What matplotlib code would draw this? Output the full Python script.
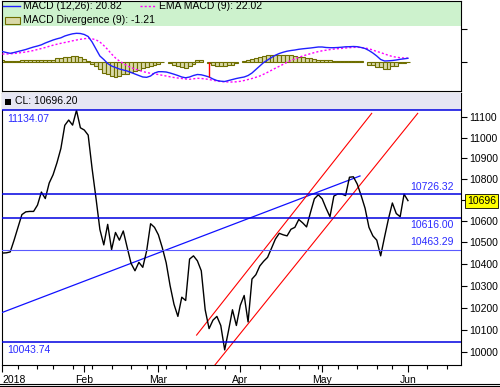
import numpy as np
import matplotlib
matplotlib.use('Agg')
import matplotlib.pyplot as plt
from matplotlib.patches import Rectangle
from matplotlib.lines import Line2D
from matplotlib.ticker import NullLocator
import matplotlib.transforms as mtrans

plt.rcParams['font.family'] = ['Liberation Sans', 'DejaVu Sans']

# daily closes, 2 Jan 2018 - 1 Jun 2018 (trading days)
close = [10450, 10451, 10455, 10510, 10570, 10630, 10643, 10645, 10645, 10675,
         10737, 10706, 10780, 10820, 10878, 10947, 11060, 11086, 11061, 11134,
         11048, 11037, 11012, 10850, 10708, 10560, 10488, 10584, 10466, 10546,
         10510, 10553, 10476, 10402, 10368, 10407, 10384, 10461, 10587, 10570,
         10535, 10475, 10405, 10300, 10215, 10160, 10247, 10232, 10422, 10437,
         10414, 10368, 10190, 10105, 10143, 10160, 10119, 10010, 10097, 10190,
         10119, 10210, 10255, 10135, 10330, 10350, 10390, 10412, 10430, 10472,
         10515, 10542, 10535, 10530, 10561, 10570, 10607, 10591, 10572, 10640,
         10705, 10724, 10705, 10660, 10620, 10718, 10728, 10728, 10720, 10808,
         10810, 10775, 10720, 10660, 10570, 10530, 10510, 10437, 10525, 10610,
         10685, 10635, 10620, 10727, 10696.20]

# MACD (12,26)
macd = [62.4, 56.3, 51.4, 56.3, 62.4, 68.5, 74.7, 82.6, 90.0, 96.1,
        103.4, 114.4, 123.6, 132.8, 140.1, 146.3, 157.3, 164.6, 170.7, 173.8,
        172.6, 166.5, 154.2, 120.6, 77.7, 34.9, 13.5, -11.0, -26.3, -35.5,
        -44.7, -50.8, -56.9, -66.1, -75.3, -84.5, -93.6, -95.5, -87.5, -69.2,
        -61.2, -61.2, -63.0, -69.2, -76.5, -84.5, -93.6, -98.5, -93.6, -84.5,
        -78.3, -80.2, -86.3, -93.6, -105.9, -115.1, -119.3, -121.2, -115.1, -108.9,
        -102.8, -97.9, -93.6, -84.5, -69.2, -47.7, -26.3, -4.9, 10.4, 25.7,
        39.8, 50.2, 58.1, 64.3, 68.5, 71.6, 75.9, 78.9, 81.4, 83.8,
        86.9, 90.0, 90.0, 86.9, 85.7, 85.7, 86.9, 88.7, 91.2, 91.8,
        93.0, 91.8, 86.9, 80.8, 68.5, 53.2, 34.9, 13.5, 4.3, 5.5,
        7.3, 10.4, 14.7, 17.7, 20.82]

# EMA of MACD (9)
ema = [47.1, 47.1, 48.3, 50.2, 53.2, 56.3, 59.4, 63.6, 68.5, 74.7,
       80.8, 86.9, 94.2, 101.0, 107.1, 112.6, 117.5, 122.4, 127.9, 132.8,
       137.1, 140.8, 143.2, 140.1, 134.0, 120.6, 99.1, 74.7, 47.1, 22.6,
       4.3, -11.0, -25.1, -35.5, -44.7, -52.6, -60.0, -66.1, -71.0, -75.3,
       -78.3, -83.2, -87.5, -92.4, -96.7, -99.8, -102.8, -105.9, -107.7, -104.7,
       -101.6, -102.8, -105.3, -108.9, -113.8, -118.1, -121.2, -123.0, -124.2, -124.2,
       -123.0, -120.0, -115.1, -108.9, -102.8, -95.5, -87.5, -76.5, -64.9, -52.6,
       -39.8, -28.2, -15.9, -3.7, 7.3, 17.7, 26.9, 34.9, 42.2, 49.0,
       55.7, 61.8, 66.7, 70.4, 74.1, 77.1, 79.6, 81.4, 83.8, 85.7,
       87.5, 88.1, 86.9, 83.8, 78.9, 71.6, 62.4, 56.3, 47.1, 39.2,
       31.8, 27.5, 24.5, 22.6, 22.02]

# MACD divergence (9)
div = [9.2, 1.8, 1.8, 1.8, 1.8, 9.2, 11.0, 11.0, 11.0, 12.2,
       12.2, 12.2, 12.2, 12.2, 22.6, 22.6, 27.5, 30.6, 32.4, 32.4,
       29.4, 15.3, 6.1, -12.2, -24.5, -45.9, -67.3, -76.5, -85.7, -94.9,
       -85.7, -76.5, -73.4, -64.3, -55.1, -49.0, -39.8, -34.9, -27.5, -18.4,
       -12.2, -1.8, np.nan, -9.2, -18.4, -27.5, -33.7, -36.7, -27.5, -15.3,
       9.2, 9.2, np.nan, -9.2, -18.4, -24.5, -27.5, -27.5, -21.4, -18.4,
       -9.2, np.nan, 6.1, 9.2, 14.1, 21.4, 27.5, 33.7, 38.6, 41.0,
       41.0, 41.0, 39.8, 39.8, 38.6, 36.7, 30.6, 27.5, 24.5, 21.4,
       15.3, 12.2, 12.2, 11.0, 9.2, 6.1, 6.1, 1.8, 1.8, 1.8,
       1.8, 1.8, 1.8, np.nan, -20.2, -20.2, -34.9, -34.9, -44.7, -44.7,
       -24.5, -24.5, -10.4, -10.4, -1.21]

signal_idx = [53]

month_labels = ['2018', 'Feb', 'Mar', 'Apr', 'May', 'Jun']
month_idx = [0, 21, 40, 61, 82, 104]
week_idx = [4, 9, 13, 18, 23, 28, 33, 37, 42, 47, 52, 57, 66, 71, 76, 81,
            86, 91, 96, 100, 109, 114]

levels = [11134.07, 10726.32, 10616.00, 10463.29, 10043.74]
level_colors = ['#0000e0', '#0000e0', '#0000e0', '#5a5aff', '#0000e0']

trend_x, trend_y = [-0.6, 91.7], [10174, 10814]
chan_up_x, chan_up_y = [49.8, 94.7], [10076, 11119]
chan_lo_x, chan_lo_y = [54.5, 106.5], [9943, 11119]

yticks = [10000, 10100, 10200, 10300, 10400, 10500, 10600, 10700, 10800, 10900, 11000, 11100]

W, H = 500, 387
fig = plt.figure(figsize=(W / 100, H / 100), dpi=100)


def box(l, t, r, b):
    return [l / W, 1 - b / H, (r - l) / W, (b - t) / H]


def fx(px):
    return px / W


def fy(py):
    return 1 - py / H


x = np.arange(len(close))
xlim = (-0.1, 117.6)

# ---- MACD panel ----
ax1 = fig.add_axes(box(2, 1, 461, 91))
ax1.set_xlim(*xlim)
ax1.set_ylim(-179.3, 371.5)
ax1.add_patch(Rectangle((0, 0.722), 1, 0.278, transform=ax1.transAxes,
                        facecolor='#cdf2cd', edgecolor='none', zorder=0))
ax1.bar(x, div, width=1.0, color='#d9d9a9', edgecolor='#6e6e00', linewidth=0.8, zorder=2)
ax1.plot(x, ema, color='#ff00ff', lw=1.0, ls=(0, (1.5, 1.5)), zorder=3)
ax1.plot(x, macd, color='#2020ff', lw=1.0, zorder=4)
for i in signal_idx:
    ax1.vlines(i, 0, macd[i], color='red', lw=1.0, zorder=5)
ax1.set_xticks([])
ax1.set_yticks([0, 200])
ax1.tick_params(axis='y', left=False, right=True, labelleft=False, labelright=False,
                length=4, width=0.8)
for s in ax1.spines.values():
    s.set_linewidth(0.8)

# legend of the MACD panel
fig.add_artist(Line2D([fx(3), fx(20)], [fy(6), fy(6)], color='#2020ff', lw=1.0))
fig.text(fx(23), fy(6), 'MACD (12,26): 20.82', fontsize=7.5, va='center')
fig.add_artist(Line2D([fx(140), fx(156)], [fy(6), fy(6)], color='#ff00ff', lw=1.0,
                      ls=(0, (1.5, 1.5))))
fig.text(fx(159), fy(6), 'EMA MACD (9): 22.02', fontsize=7.5, va='center')
fig.add_artist(Rectangle((fx(5), fy(23.5)), fx(15), 7 / H, facecolor='#d9d9a9',
                         edgecolor='#6e6e00', lw=0.8, transform=fig.transFigure))
fig.text(fx(23), fy(20), 'MACD Divergence (9): -1.21', fontsize=7.5, va='center')

# ---- price panel ----
ax2 = fig.add_axes(box(2, 93, 461, 365))
ax2.set_yscale('log')
ax2.set_xlim(*xlim)
ax2.set_ylim(9943, 11220)
ax2.add_patch(Rectangle((0, 0.9364), 1, 0.0636, transform=ax2.transAxes,
                        facecolor='#e6e6f3', edgecolor='none', zorder=6))
for lev, c in zip(levels, level_colors):
    ax2.axhline(lev, color=c, lw=1.1 if c == '#0000e0' else 0.8, zorder=7)
ax2.plot(trend_x, trend_y, color='#1010ff', lw=0.9, zorder=3)
ax2.plot(chan_up_x, chan_up_y, color='#ff0000', lw=0.8, zorder=3)
ax2.plot(chan_lo_x, chan_lo_y, color='#ff0000', lw=0.8, zorder=3)
ax2.plot(x, close, color='black', lw=1.0, zorder=4)

ax2.yaxis.set_minor_locator(NullLocator())
ax2.set_yticks(yticks)
ax2.set_yticklabels(['' if v == 10700 else str(v) for v in yticks])
ax2.tick_params(axis='y', left=False, right=True, labelleft=False, labelright=True,
                length=4, width=0.8, labelsize=7.5, pad=2)
ax2.set_xticks(month_idx)
ax2.set_xticklabels(month_labels)
ax2.set_xticks(week_idx, minor=True)
ax2.tick_params(axis='x', which='major', length=5, width=0.8, labelsize=7.5, pad=2)
ax2.tick_params(axis='x', which='minor', length=3, width=0.8)
ax2.get_xticklabels()[0].set_horizontalalignment('left')
for s in ax2.spines.values():
    s.set_linewidth(0.8)

# header of the price panel
fig.add_artist(Rectangle((fx(5), fy(105)), fx(6), 6 / H, facecolor='black',
                         edgecolor='none', transform=fig.transFigure, zorder=10))
fig.text(fx(15), fy(101.5), 'CL: 10696.20', fontsize=7.5, va='center', zorder=10)

# level labels
lab = dict(fontsize=7.5, color='#2a2aff', va='center', zorder=10)
fig.text(fx(7), fy(118.5), '11134.07', ha='left', **lab)
fig.text(fx(454), fy(187.5), '10726.32', ha='right', **lab)
fig.text(fx(454), fy(225), '10616.00', ha='right', **lab)
fig.text(fx(454), fy(242), '10463.29', ha='right', **lab)
fig.text(fx(7), fy(350), '10043.74', ha='left', **lab)

# current value tag on the right axis
tr = mtrans.blended_transform_factory(ax2.transAxes, ax2.transData)
ax2.text(1.0 + 6 / 459, close[-1], '10696', transform=tr, ha='left', va='center',
         fontsize=7.5, clip_on=False, zorder=20,
         bbox=dict(boxstyle='square,pad=0.2', facecolor='#ffff00', edgecolor='black', lw=0.6))

# double rule along the bottom of the picture
for yb in (383.5, 386):
    fig.add_artist(Line2D([0, 1], [fy(yb), fy(yb)], color='black', lw=0.8))

fig.savefig('out.png', dpi=100)
